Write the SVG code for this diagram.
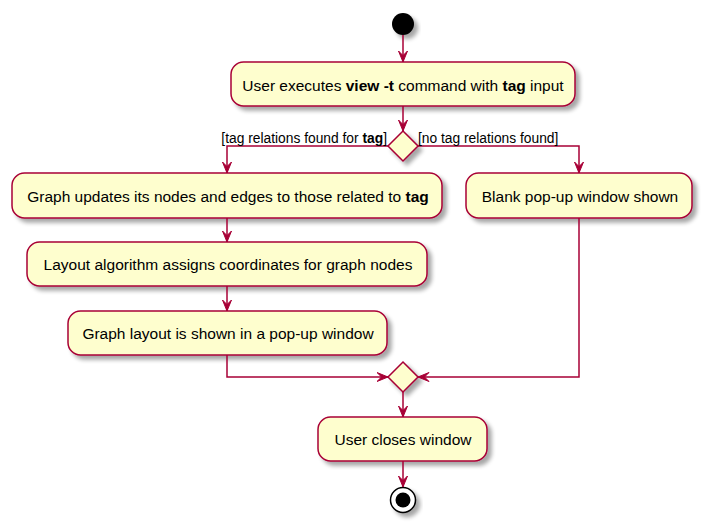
<svg xmlns="http://www.w3.org/2000/svg" width="705" height="526" viewBox="0 0 705 526">
<defs>
<filter id="sh" x="-20%" y="-20%" width="150%" height="160%">
<feGaussianBlur in="SourceAlpha" stdDeviation="2"/>
<feOffset dx="4" dy="4" result="b"/>
<feComponentTransfer><feFuncA type="linear" slope="0.35"/></feComponentTransfer>
<feMerge><feMergeNode/><feMergeNode in="SourceGraphic"/></feMerge>
</filter>
<marker id="ah" markerUnits="userSpaceOnUse" markerWidth="14" markerHeight="12" refX="11.5" refY="5" orient="auto" viewBox="0 0 14 12">
<path d="M0.5,0.5 L11.5,5 L0.5,9.5 L5,5 Z" fill="#A80036" stroke="#A80036" stroke-width="1"/>
</marker>
</defs>
<style>
.box{fill:#FEFECE;stroke:#A80036;stroke-width:1.5;filter:url(#sh)}
.t{font-family:"Liberation Sans",Arial,sans-serif;font-size:15.5px;fill:#000;text-anchor:middle}
.l{font-family:"Liberation Sans",Arial,sans-serif;font-size:13.8px;fill:#000}
.c{fill:none;stroke:#A80036;stroke-width:1.5;marker-end:url(#ah)}
.b{font-weight:bold}
</style>
<g id="start"><circle cx="403" cy="24" r="11" fill="#000" filter="url(#sh)"/></g>
<g id="n1"><rect class="box" x="231" y="62" width="344" height="44" rx="12.5"/>
<text class="t" x="403" y="91">User executes <tspan class="b">view -t</tspan> command with <tspan class="b">tag</tspan> input</text></g>
<g id="d1"><polygon class="box" points="403,131 418,146 403,161 388,146"/></g>
<g id="n2"><rect class="box" x="12" y="173" width="430" height="45" rx="12.5"/>
<text class="t" x="228" y="202">Graph updates its nodes and edges to those related to <tspan class="b">tag</tspan></text></g>
<g id="n3"><rect class="box" x="27" y="242" width="400" height="44" rx="12.5"/>
<text class="t" x="228" y="270">Layout algorithm assigns coordinates for graph nodes</text></g>
<g id="n4"><rect class="box" x="68" y="311" width="319" height="44" rx="12.5"/>
<text class="t" x="228" y="339">Graph layout is shown in a pop-up window</text></g>
<g id="n5"><rect class="box" x="466" y="173" width="226" height="45" rx="12.5"/>
<text class="t" x="580" y="202">Blank pop-up window shown</text></g>
<g id="d2"><polygon class="box" points="403,362 418,377 403,392 388,377"/></g>
<g id="n6"><rect class="box" x="318" y="417" width="169" height="44" rx="12.5"/>
<text class="t" x="403" y="445">User closes window</text></g>
<g id="end"><circle cx="403" cy="500" r="12.5" fill="#fff" stroke="#000" stroke-width="1.5" filter="url(#sh)"/><circle cx="403" cy="500" r="7.5" fill="#000"/></g>
<g id="connectors">
<path class="c" d="M403,35 V62"/>
<path class="c" d="M403,106 V131"/>
<path class="c" d="M388,146 H227 V173"/>
<path class="c" d="M418,146 H579 V173"/>
<path class="c" d="M227,218 V242"/>
<path class="c" d="M227,286 V311"/>
<path class="c" d="M227,355 V377 H388"/>
<path class="c" d="M579,218 V377 H418"/>
<path class="c" d="M403,392 V417"/>
<path class="c" d="M403,461 V487"/>
<text class="l" x="387" y="143" text-anchor="end">[tag relations found for <tspan class="b">tag</tspan>]</text>
<text class="l" x="418" y="143">[no tag relations found]</text>
</g>
</svg>
